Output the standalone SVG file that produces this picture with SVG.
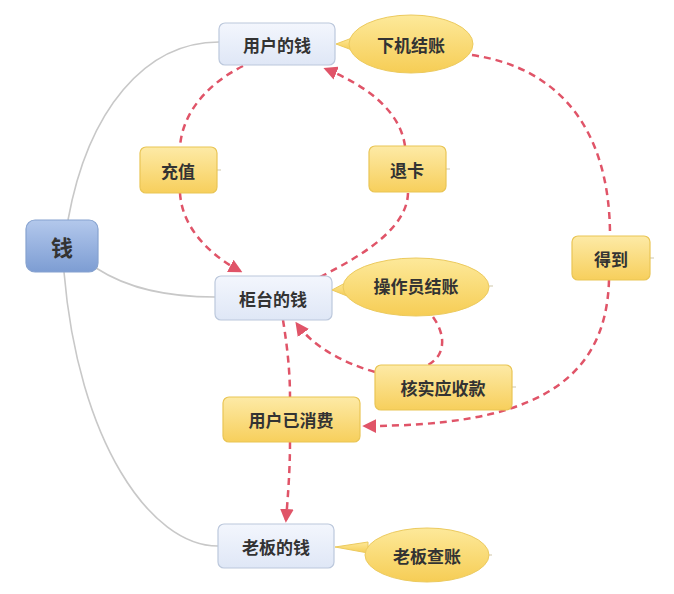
<svg xmlns="http://www.w3.org/2000/svg" width="674" height="594" viewBox="0 0 674 594">
<defs>
<linearGradient id="gBlue" x1="0" y1="0" x2="0" y2="1"><stop offset="0" stop-color="#f3f6fd"/><stop offset="1" stop-color="#dfe7f6"/></linearGradient>
<linearGradient id="gRoot" x1="0" y1="0" x2="0" y2="1"><stop offset="0" stop-color="#b3c8ec"/><stop offset="1" stop-color="#7d9dd3"/></linearGradient>
<linearGradient id="gYel" x1="0" y1="0" x2="0" y2="1"><stop offset="0" stop-color="#fdeaa6"/><stop offset="1" stop-color="#f7cf5c"/></linearGradient>
<linearGradient id="gEll" x1="0" y1="0" x2="0" y2="1"><stop offset="0" stop-color="#fde99a"/><stop offset="1" stop-color="#f6cd55"/></linearGradient>
<marker id="arr" viewBox="0 0 10 10" refX="8" refY="5" markerWidth="5.5" markerHeight="5.5" orient="auto" markerUnits="strokeWidth">
<path d="M0,0 L10,5 L0,10 z" fill="#e05468"/>
</marker>
</defs>
<style>
.t{font-family:"Noto Sans CJK SC","Noto Sans",sans-serif;font-weight:bold;fill:#333333;text-anchor:middle;dominant-baseline:central}
.blue{fill:url(#gBlue);stroke:#bcc8dc;stroke-width:1.2}
.root{fill:url(#gRoot);stroke:#86a2cf;stroke-width:1.2}
.yel{fill:url(#gYel);stroke:#e9c555;stroke-width:1.2}
.ell{fill:url(#gEll);stroke:#ecca5e;stroke-width:1}
.gray{fill:none;stroke:#c8c8c8;stroke-width:1.6}
.dash{fill:none;stroke:#e05468;stroke-width:2.5;stroke-dasharray:7 5}
.stub{stroke:#d8d0b8;stroke-width:1.2}
</style>
<rect width="674" height="594" fill="#ffffff"/>

<g id="connectors">
<path class="gray" d="M68,220 C88,110 145,42 219,42"/>
<path class="gray" d="M96,268 C130,290 170,297 215,297"/>
<path class="gray" d="M64,272 C78,440 150,546 218,546"/>
<path class="dash" d="M243,66 C205,85 182,115 180,147"/>
<path class="dash" d="M180,193 C182,228 210,255 240,271" marker-end="url(#arr)"/>
<path class="dash" d="M320,277 C370,252 408,225 408,192"/>
<path class="dash" d="M405,146 C400,110 365,85 326,69" marker-end="url(#arr)"/>
<path class="dash" d="M472,55 C560,68 610,130 610,236"/>
<path class="dash" d="M609,280 C606,390 520,426 365,426" marker-end="url(#arr)"/>
<path class="dash" d="M433,317 C446,335 446,355 428,365"/>
<path class="dash" d="M375,372 C340,362 312,345 297,324" marker-end="url(#arr)"/>
<path class="dash" d="M283,320 C287,345 290,370 290,397"/>
<path class="dash" d="M290,442 C290,470 288,495 286,520" marker-end="url(#arr)"/>
<line class="stub" x1="217" y1="170" x2="221" y2="170"/>
<line class="stub" x1="446" y1="169" x2="450" y2="169"/>
<line class="stub" x1="650" y1="258" x2="654" y2="258"/>
<line class="stub" x1="512" y1="387" x2="516" y2="387"/>
<line class="stub" x1="489" y1="286" x2="493" y2="286"/>
<line class="stub" x1="488" y1="555" x2="492" y2="555"/>
</g>

<g id="n-root"><rect class="root" x="26" y="220" width="72" height="52" rx="9"/><text class="t" x="62" y="246" font-size="22">钱</text></g>

<g id="n-user"><rect class="blue" x="219" y="23" width="116" height="42" rx="6"/><text class="t" x="277" y="44" font-size="17">用户的钱</text></g>
<g id="n-xiaji"><path class="ell" d="M352,38 L336,44 L352,50 Z"/><ellipse class="ell" cx="411" cy="44" rx="62" ry="29"/><text class="t" x="411" y="44" font-size="17">下机结账</text></g>

<g id="n-chongzhi"><rect class="yel" x="140" y="147" width="77" height="46" rx="6"/><text class="t" x="178" y="170" font-size="17">充值</text></g>
<g id="n-tuika"><rect class="yel" x="369" y="146" width="77" height="46" rx="6"/><text class="t" x="407" y="169" font-size="17">退卡</text></g>
<g id="n-dedao"><rect class="yel" x="572" y="236" width="78" height="44" rx="6"/><text class="t" x="611" y="258" font-size="17">得到</text></g>

<g id="n-counter"><rect class="blue" x="215" y="276" width="117" height="44" rx="6"/><text class="t" x="273" y="298" font-size="17">柜台的钱</text></g>
<g id="n-caozuo"><path class="ell" d="M347,282 L332,290 L347,296 Z"/><ellipse class="ell" cx="416" cy="287" rx="73" ry="29"/><text class="t" x="416" y="285" font-size="17">操作员结账</text></g>

<g id="n-hesh"><rect class="yel" x="375" y="365" width="137" height="45" rx="6"/><text class="t" x="443" y="387" font-size="17">核实应收款</text></g>
<g id="n-yixiaofei"><rect class="yel" x="223" y="397" width="137" height="45" rx="6"/><text class="t" x="291" y="419" font-size="17">用户已消费</text></g>

<g id="n-boss"><rect class="blue" x="218" y="524" width="116" height="44" rx="6"/><text class="t" x="276" y="546" font-size="17">老板的钱</text></g>
<g id="n-chazhang"><path class="ell" d="M368,542 L335,547 L368,553 Z"/><ellipse class="ell" cx="427" cy="555" rx="62" ry="27"/><text class="t" x="427" y="555" font-size="17">老板查账</text></g>
</svg>
